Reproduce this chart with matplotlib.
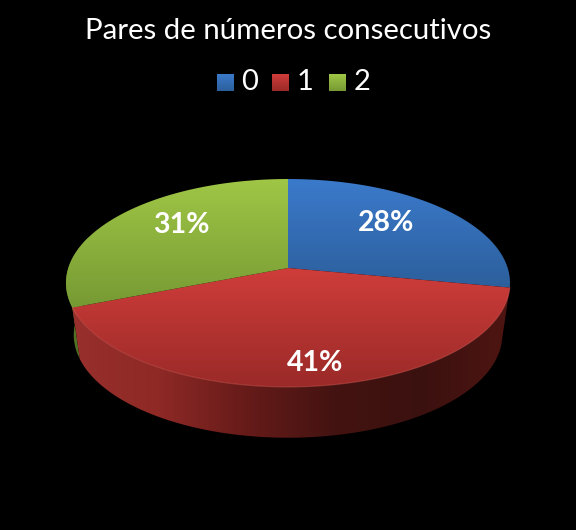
import numpy as np
from matplotlib import pyplot as plt
from matplotlib.colors import LinearSegmentedColormap
from matplotlib.patches import Polygon, Rectangle

### DATA ###
title = 'Pares de números consecutivos'
categories = ['0', '1', '2']
values = [28, 41, 31]

### COLOURS ###
top_colors = [('#3b7acb', '#2c5f9c'), ('#cf3d3a', '#9a2a28'), ('#a0c646', '#769a33')]
red_side = ['#98302d', '#8e2926', '#661b19', '#431311', '#3b110f', '#4f1512']
green_side = ['#58792a', '#4a6a20']
label_xy = [(386, 223), (315, 363), (181, 225)]

### PIE GEOMETRY (pixels) ###
cx, cy = 288, 268
A, B, k = 219.7, 101.8, 0.144   # k = perspective


def rim(deg):
    # top rim of the pie, seen in perspective
    t = np.radians(deg)
    w = 1 + k * np.sin(t)
    return cx + A * np.cos(t) / w, cy - B * np.sin(t) / w


def low_rim(deg):
    # bottom rim, a bit narrower and pushed down
    x, y = rim(deg)
    return cx + (x - cx) * 0.965, cy + (y - cy) * 0.99 + 52


def arc(f, a, b):
    x, y = f(np.linspace(a, b, 200))
    return np.column_stack([x, y])


def gradient(cols, patch, extent, vertical=True):
    cmap = LinearSegmentedColormap.from_list('g', cols)
    g = np.linspace(0, 1, 256)
    g = g.reshape(-1, 1) if vertical else g.reshape(1, -1)
    im = ax.imshow(g, cmap=cmap, extent=extent, aspect='auto', vmin=0, vmax=1,
                   origin='upper' if vertical else 'lower', zorder=patch.get_zorder())
    ax.add_patch(patch)
    patch.set_visible(False)
    im.set_clip_path(patch.get_path(), patch.get_transform())


fig = plt.figure(figsize=(5.76, 5.30), dpi=100, facecolor='black')
ax = fig.add_axes([0, 0, 1, 1], facecolor='black')
ax.axis('off')

### ANGLES FROM THE VALUES, CLOCKWISE FROM 12 O'CLOCK ###
edges = 90 - np.cumsum([0] + values) * 3.6

### SIDE WALL ###
green_a, green_b = edges[2], edges[2] - 40
poly = np.vstack([arc(rim, green_a, green_b), arc(low_rim, green_b, green_a)])
gradient(green_side, Polygon(poly, zorder=1), (60, 90, 440, 180), vertical=False)

poly = np.vstack([arc(rim, edges[1], edges[2]), arc(low_rim, edges[2], edges[1])])
gradient(red_side, Polygon(poly, zorder=2), (70, 512, 440, 180), vertical=False)

### TOP FACE ###
for i in range(len(values)):
    pts = np.vstack([[[cx, cy]], arc(rim, edges[i], edges[i + 1])])
    y0, y1 = pts[:, 1].min(), pts[:, 1].max()
    gradient(top_colors[i], Polygon(pts, zorder=3 + i * 0.1), (55, 520, y1, y0))

# thin highlight on the front edge
front = arc(rim, edges[2], edges[1])
ax.plot(front[:, 0], front[:, 1], color='#e0605a', lw=0.8, alpha=0.45, zorder=4)

### LABELS ###
for v, (x, y) in zip(values, label_xy):
    ax.text(x, y, f'{v}%', color='white', fontsize=20.5, fontweight='bold', family='Lato',
            ha='center', va='center', zorder=5)

ax.text(288, 31, title, color='white', fontsize=21.2, family='Lato', ha='center', va='center')

### LEGEND ###
swatch_x = [217, 272, 329]
for i, name in enumerate(categories):
    x = swatch_x[i]
    gradient([top_colors[i][0], top_colors[i][1]], Rectangle((x, 74), 17, 17, zorder=3),
             (x, x + 17, 91, 74))
    ax.text(x + 33, 82, name, color='white', fontsize=21, family='Lato',
            ha='center', va='center')

ax.set_xlim(0, 576)
ax.set_ylim(530, 0)
fig.savefig('out.png', dpi=100, facecolor='black')
